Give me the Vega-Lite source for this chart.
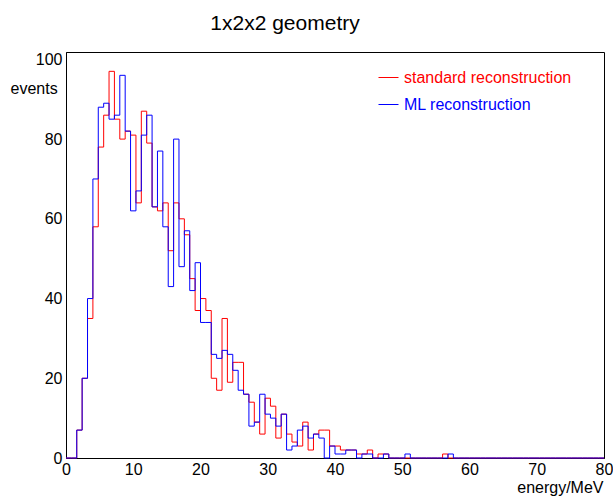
{
  "$schema": "https://vega.github.io/schema/vega-lite/v6.json",
  "width": 538,
  "height": 406,
  "autosize": {"type": "none"},
  "padding": {"left": 66, "top": 52, "right": 9, "bottom": 39},
  "background": "white",
  "config": {
    "font": "Liberation Sans",
    "view": {"stroke": "#000000", "strokeWidth": 1},
    "axis": {"domainColor": "#000000", "tickColor": "#000000", "labelColor": "#000000", "titleColor": "#000000", "grid": false, "labelFont": "Liberation Sans", "titleFont": "Liberation Sans", "labelFontSize": 16, "titleFontSize": 16, "titleFontWeight": "normal", "labelOverlap": false, "labelFlush": false, "labelBound": false}
  },
  "title": {"text": "1x2x2 geometry", "font": "Liberation Sans", "fontSize": 21, "fontWeight": "normal", "anchor": "middle", "dx": -50, "baseline": "alphabetic", "offset": 0, "color": "#000000"},
  "data": {"values": [
    {"e": 0, "std": 0, "ml": 0},
    {"e": 0.8, "std": 0, "ml": 0},
    {"e": 1.6, "std": 7, "ml": 7},
    {"e": 2.4, "std": 20, "ml": 20},
    {"e": 3.2, "std": 35, "ml": 40},
    {"e": 4, "std": 58, "ml": 70},
    {"e": 4.8, "std": 78, "ml": 88},
    {"e": 5.6, "std": 86, "ml": 89},
    {"e": 6.4, "std": 97, "ml": 85},
    {"e": 7.2, "std": 85, "ml": 86},
    {"e": 8, "std": 80, "ml": 96},
    {"e": 8.8, "std": 82, "ml": 82},
    {"e": 9.6, "std": 81, "ml": 62},
    {"e": 10.4, "std": 64, "ml": 67},
    {"e": 11.2, "std": 87, "ml": 81},
    {"e": 12, "std": 79, "ml": 86},
    {"e": 12.8, "std": 63, "ml": 63},
    {"e": 13.6, "std": 62, "ml": 77},
    {"e": 14.4, "std": 64, "ml": 58},
    {"e": 15.2, "std": 52, "ml": 43},
    {"e": 16, "std": 64, "ml": 80},
    {"e": 16.8, "std": 60, "ml": 48},
    {"e": 17.6, "std": 56, "ml": 57},
    {"e": 18.4, "std": 45, "ml": 42},
    {"e": 19.2, "std": 37, "ml": 49},
    {"e": 20, "std": 40, "ml": 34},
    {"e": 20.8, "std": 37, "ml": 34},
    {"e": 21.6, "std": 20, "ml": 26},
    {"e": 22.4, "std": 17, "ml": 25},
    {"e": 23.2, "std": 35, "ml": 27},
    {"e": 24, "std": 19, "ml": 26},
    {"e": 24.8, "std": 24, "ml": 22},
    {"e": 25.6, "std": 24, "ml": 17},
    {"e": 26.4, "std": 16, "ml": 16},
    {"e": 27.2, "std": 14, "ml": 8},
    {"e": 28, "std": 9, "ml": 9},
    {"e": 28.8, "std": 6, "ml": 16},
    {"e": 29.6, "std": 15, "ml": 11},
    {"e": 30.4, "std": 13, "ml": 10},
    {"e": 31.2, "std": 5, "ml": 8},
    {"e": 32, "std": 11, "ml": 11},
    {"e": 32.8, "std": 6, "ml": 2},
    {"e": 33.6, "std": 4, "ml": 3},
    {"e": 34.4, "std": 3, "ml": 7},
    {"e": 35.2, "std": 9, "ml": 8},
    {"e": 36, "std": 2, "ml": 5},
    {"e": 36.8, "std": 6, "ml": 6},
    {"e": 37.6, "std": 7, "ml": 5},
    {"e": 38.4, "std": 7, "ml": 0},
    {"e": 39.2, "std": 3, "ml": 3},
    {"e": 40, "std": 3, "ml": 1},
    {"e": 40.8, "std": 2, "ml": 1},
    {"e": 41.6, "std": 2, "ml": 2},
    {"e": 42.4, "std": 2, "ml": 2},
    {"e": 43.2, "std": 1, "ml": 0},
    {"e": 44, "std": 1, "ml": 1},
    {"e": 44.8, "std": 2, "ml": 1},
    {"e": 45.6, "std": 0, "ml": 0},
    {"e": 46.4, "std": 1, "ml": 0},
    {"e": 47.2, "std": 1, "ml": 1},
    {"e": 48, "std": 0, "ml": 0},
    {"e": 48.8, "std": 0, "ml": 0},
    {"e": 49.6, "std": 0, "ml": 0},
    {"e": 50.4, "std": 0, "ml": 1},
    {"e": 51.2, "std": 0, "ml": 0},
    {"e": 52, "std": 0, "ml": 0},
    {"e": 52.8, "std": 0, "ml": 0},
    {"e": 53.6, "std": 0, "ml": 0},
    {"e": 54.4, "std": 0, "ml": 0},
    {"e": 55.2, "std": 0, "ml": 0},
    {"e": 56, "std": 1, "ml": 0},
    {"e": 56.8, "std": 0, "ml": 1},
    {"e": 57.6, "std": 0, "ml": 0},
    {"e": 58.4, "std": 0, "ml": 0},
    {"e": 59.2, "std": 0, "ml": 0},
    {"e": 60, "std": 0, "ml": 0},
    {"e": 60.8, "std": 0, "ml": 0},
    {"e": 61.6, "std": 0, "ml": 0},
    {"e": 62.4, "std": 0, "ml": 0},
    {"e": 63.2, "std": 0, "ml": 0},
    {"e": 64, "std": 0, "ml": 0},
    {"e": 64.8, "std": 0, "ml": 0},
    {"e": 65.6, "std": 0, "ml": 0},
    {"e": 66.4, "std": 0, "ml": 0},
    {"e": 67.2, "std": 0, "ml": 0},
    {"e": 68, "std": 0, "ml": 0},
    {"e": 68.8, "std": 0, "ml": 0},
    {"e": 69.6, "std": 0, "ml": 0},
    {"e": 70.4, "std": 0, "ml": 0},
    {"e": 71.2, "std": 0, "ml": 0},
    {"e": 72, "std": 0, "ml": 0},
    {"e": 72.8, "std": 0, "ml": 0},
    {"e": 73.6, "std": 0, "ml": 0},
    {"e": 74.4, "std": 0, "ml": 0},
    {"e": 75.2, "std": 0, "ml": 0},
    {"e": 76, "std": 0, "ml": 0},
    {"e": 76.8, "std": 0, "ml": 0},
    {"e": 77.6, "std": 0, "ml": 0},
    {"e": 78.4, "std": 0, "ml": 0},
    {"e": 79.2, "std": 0, "ml": 0},
    {"e": 80, "std": 0, "ml": 0}
  ]},
  "encoding": {
    "x": {
      "field": "e", "type": "quantitative",
      "scale": {"domain": [0, 80], "nice": false, "zero": false},
      "axis": {
        "values": [0,2,4,6,8,10,12,14,16,18,20,22,24,26,28,30,32,34,36,38,40,42,44,46,48,50,52,54,56,58,60,62,64,66,68,70,72,74,76,78,80],
        "labelExpr": "datum.value % 10 === 0 ? datum.label : ''",
        "tickSize": 0, "labelPadding": 3,
        "title": "energy/MeV", "titleAnchor": "end", "titleAlign": "right", "titleBaseline": "middle", "titleX": 537, "titleY": 29,
        "encode": {"ticks": {"update": {"y2": {"signal": "datum.value % 10 === 0 ? -12 : -6"}}}}
      }
    }
  },
  "layer": [
    {
      "mark": {"type": "line", "interpolate": "step-after", "strokeWidth": 1},
      "encoding": {
        "y": {
          "field": "std", "type": "quantitative",
          "scale": {"domain": [0, 101.85], "nice": false, "zero": true},
          "axis": {
            "values": [0,5,10,15,20,25,30,35,40,45,50,55,60,65,70,75,80,85,90,95,100],
            "labelExpr": "datum.value % 20 === 0 ? datum.label : ''",
            "tickSize": 0, "labelPadding": 4,
            "title": "events", "titleAngle": 0, "titleAlign": "left", "titleBaseline": "middle", "titleX": -56, "titleY": 36,
            "encode": {"ticks": {"update": {"x2": {"signal": "datum.value % 20 === 0 ? 16 : 8"}}}}
          }
        },
        "color": {
          "datum": "standard reconstruction",
          "scale": {"domain": ["standard reconstruction", "ML reconstruction"], "range": ["#ff0000", "#0000ff"]},
          "legend": {
            "orient": "none", "legendX": 312, "legendY": 15, "title": null, "padding": 0,
            "symbolType": "stroke", "symbolSize": 400, "symbolStrokeWidth": 1,
            "labelFont": "Liberation Sans", "labelFontSize": 16, "labelOffset": 5, "rowPadding": 8, "labelLimit": 400,
            "encode": {"labels": {"update": {"fill": {"signal": "datum.value === 'ML reconstruction' ? '#0000ff' : '#ff0000'"}}}}
          }
        }
      }
    },
    {
      "mark": {"type": "line", "interpolate": "step-after", "strokeWidth": 1},
      "encoding": {
        "y": {"field": "ml", "type": "quantitative"},
        "color": {"datum": "ML reconstruction"}
      }
    }
  ]
}
